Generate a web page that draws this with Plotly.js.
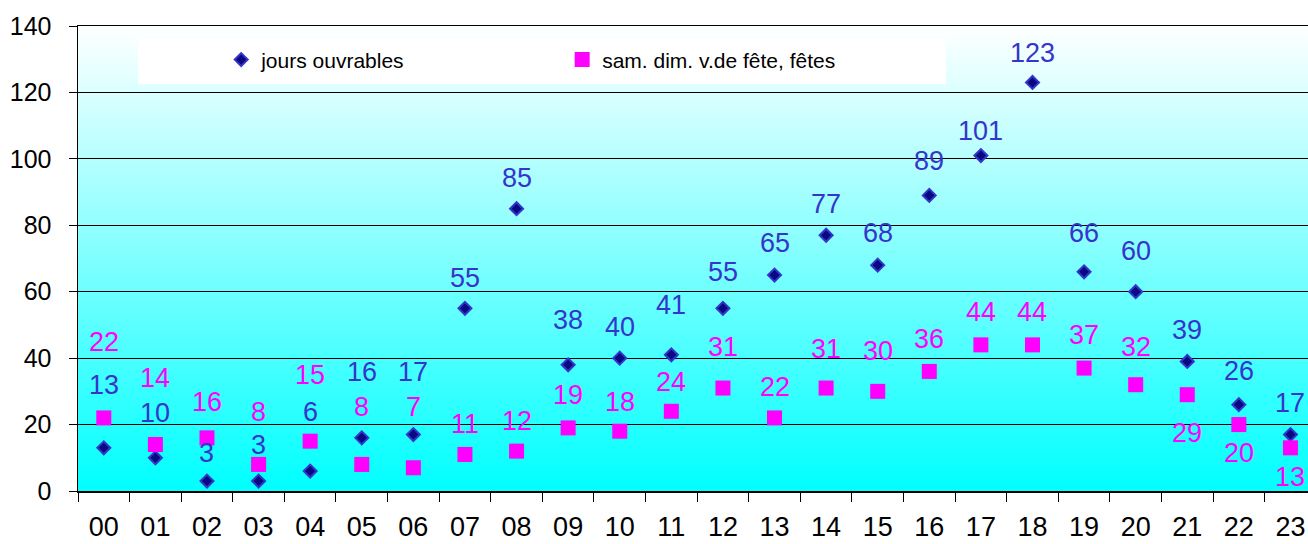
<!DOCTYPE html>
<html>
<head>
<meta charset="utf-8">
<script src="https://cdn.plot.ly/plotly-3.0.1.min.js"></script>
<style>html,body{margin:0;padding:0;background:#fff;}#chart{width:1308px;height:544px;}</style>
</head>
<body>
<div id="chart"></div>
<script>
// ---- data ----
const hours = ["00","01","02","03","04","05","06","07","08","09","10","11","12","13","14","15","16","17","18","19","20","21","22","23"];
const joursOuvrables = [13,10,3,3,6,16,17,55,85,38,40,41,55,65,77,68,89,101,123,66,60,39,26,17];
const samDimFetes = [22,14,16,8,15,8,7,11,12,19,18,24,31,22,31,30,36,44,44,37,32,29,20,13];
const seriesNames = ["jours ouvrables", "sam. dim. v.de fête, fêtes"];
const yTicks = [0,20,40,60,80,100,120,140];

// ---- label placement (px offset above marker; negative = below) ----
const blueLabelDy = [63,45,28,36,59,66,63,30,31,45,31,50,36,32,31,32,34,25,29,39,41,31,34,32];
const pinkLabelDy = [76,67,36,52,66,57,61,30,30,33,29,29,41,31,39,40,32,33,33,33,38,-38,-28,-29];

const FONT = '"Liberation Sans", Arial, Helvetica, sans-serif';
const BLUE_TXT = '#3535CC';
const PINK = '#FF00FF';

const traces = [
  {
    type: 'scatter', mode: 'markers', name: seriesNames[0],
    x: hours, y: joursOuvrables, cliponaxis: false,
    marker: {symbol: 'diamond', size: 10, color: '#0A0A80', line: {color: '#3535CC', width: 2}}
  },
  {
    type: 'scatter', mode: 'markers', name: seriesNames[1],
    x: hours, y: samDimFetes, cliponaxis: false,
    marker: {symbol: 'square', size: 15, color: PINK, line: {width: 0}}
  }
];

const annotations = [];
hours.forEach((h, i) => {
  annotations.push({x: h, y: joursOuvrables[i], xref: 'x', yref: 'y', text: String(joursOuvrables[i]),
    showarrow: false, yshift: blueLabelDy[i], xanchor: 'center', yanchor: 'middle',
    font: {family: FONT, size: 27, color: BLUE_TXT}});
  annotations.push({x: h, y: samDimFetes[i], xref: 'x', yref: 'y', text: String(samDimFetes[i]),
    showarrow: false, yshift: pinkLabelDy[i], xanchor: 'center', yanchor: 'middle',
    font: {family: FONT, size: 27, color: PINK}});
});

const svg = "<svg xmlns='http://www.w3.org/2000/svg' width='10' height='100' preserveAspectRatio='none'>" +
  "<defs><linearGradient id='g' x1='0' y1='0' x2='0' y2='1'><stop offset='0' stop-color='#ffffff'/>" +
  "<stop offset='1' stop-color='#00ffff'/></linearGradient></defs><rect width='10' height='100' fill='url(#g)'/></svg>";
const bgUri = 'data:image/svg+xml;charset=utf-8,' + encodeURIComponent(svg);

const layout = {
  width: 1308, height: 544,
  margin: {l: 78, r: 0, t: 26, b: 53},
  paper_bgcolor: '#ffffff',
  plot_bgcolor: 'rgba(0,0,0,0)',
  font: {family: FONT, color: '#000'},
  showlegend: true,
  legend: {
    orientation: 'h', x: 0.1164, y: 0.927, xanchor: 'left', yanchor: 'middle',
    bgcolor: 'rgba(0,0,0,0)', font: {family: FONT, size: 21, color: '#000'},
    entrywidth: 296, entrywidthmode: 'pixels', itemclick: false
  },
  xaxis: {
    type: 'category', categoryorder: 'array', categoryarray: hours,
    range: [-0.5, 23.34], fixedrange: true,
    showgrid: false, zeroline: false,
    showline: true, linecolor: '#000', linewidth: 1.5, mirror: true,
    ticks: 'outside', tickson: 'boundaries', ticklen: 9, tickcolor: '#000', tickwidth: 1,
    tickfont: {family: FONT, size: 27, color: '#000'}, ticklabelstandoff: 11
  },
  yaxis: {
    range: [0, 140], tickvals: yTicks, fixedrange: true,
    showgrid: true, gridcolor: '#000', gridwidth: 1, zeroline: false,
    showline: true, linecolor: '#000', linewidth: 1.5,
    ticks: 'outside', ticklen: 8, tickcolor: '#000', tickwidth: 1,
    tickfont: {family: FONT, size: 25, color: '#000'}, ticklabelstandoff: 12
  },
  images: [{
    source: bgUri, xref: 'paper', yref: 'paper', x: 0, y: 1, sizex: 1, sizey: 1,
    xanchor: 'left', yanchor: 'top', sizing: 'stretch', layer: 'below'
  }],
  shapes: [{
    type: 'rect', xref: 'paper', yref: 'paper', x0: 0.0488, x1: 0.7057, y0: 0.875, y1: 0.972,
    fillcolor: '#ffffff', line: {width: 0}, layer: 'below'
  }],
  annotations: annotations
};

Plotly.newPlot('chart', traces, layout, {displayModeBar: false, staticPlot: true});
</script>
</body>
</html>
